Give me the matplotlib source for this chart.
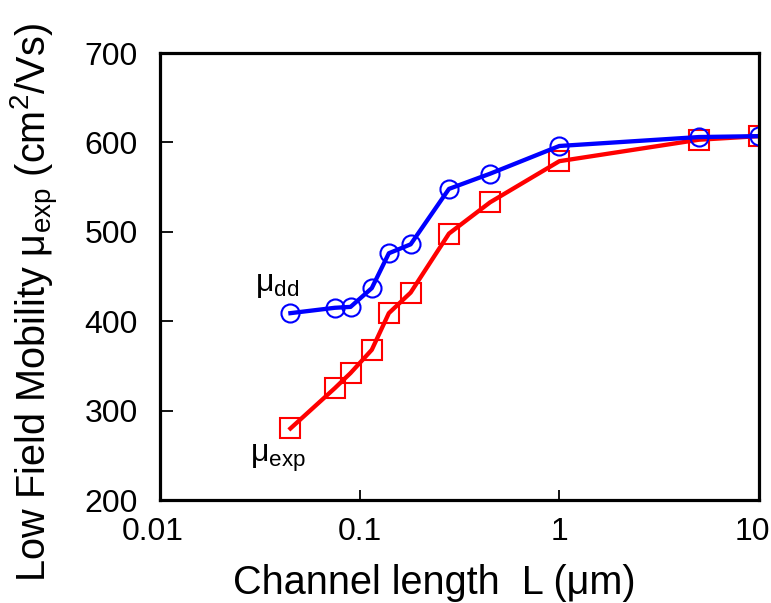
import matplotlib
matplotlib.use('Agg')
import matplotlib.pyplot as plt
import matplotlib.transforms as mtransforms

plt.rcParams['font.family'] = ['Liberation Sans', 'DejaVu Sans']
plt.rcParams['mathtext.fontset'] = 'custom'
plt.rcParams['mathtext.rm'] = 'Liberation Sans'
plt.rcParams['mathtext.it'] = 'Liberation Sans'

# channel length (um)
length = [0.045, 0.075, 0.09, 0.115, 0.14, 0.18, 0.28, 0.45, 1.0, 5.0, 10.0]
mu_dd = [409, 415, 416, 437, 476, 486, 548, 565, 596, 606, 607]
mu_exp = [280, 325, 342, 368, 409, 432, 498, 533, 579, 603, 607]

fig = plt.figure(figsize=(7.71, 6.03), dpi=100)
ax = fig.add_axes([0.2075, 0.1708, 0.777, 0.7413])

ax.plot(length, mu_exp, color='red', linewidth=3.1, marker='s', markersize=14,
        mfc='none', mec='red', mew=1.5)
ax.plot(length, mu_dd, color='blue', linewidth=3.1, marker='o', markersize=13,
        mfc='none', mec='blue', mew=1.5)

ax.set_xscale('log')
ax.set_xlim(0.01, 10)
ax.set_ylim(200, 700)
ax.set_xticks([0.01, 0.1, 1, 10])
ax.set_xticklabels(['0.01', '0.1', '1', '10'])
ax.set_yticks([200, 300, 400, 500, 600, 700])
ax.minorticks_off()

ax.tick_params(direction='in', labelsize=23, width=1.3)
ax.tick_params(axis='y', length=9, pad=16)
ax.tick_params(axis='x', length=7, pad=12)
for s in ax.spines.values():
    s.set_linewidth(2.3)

# nudge the end labels inward like the original
xlabels = ax.get_xticklabels()
xlabels[0].set_transform(xlabels[0].get_transform() +
                         mtransforms.ScaledTranslation(-7 / 100, 0, fig.dpi_scale_trans))
xlabels[-1].set_transform(xlabels[-1].get_transform() +
                          mtransforms.ScaledTranslation(-7 / 100, 0, fig.dpi_scale_trans))

ax.text(0.0299, 424, '$\\mathregular{\\mu_{dd}}$', fontsize=23, ha='left', va='bottom')
ax.text(0.0282, 229, '$\\mathregular{\\mu_{exp}}$', fontsize=23, ha='left', va='bottom')

ax.set_xlabel('Channel length  L (\u03bcm)', fontsize=28.5, va='center')
ax.xaxis.set_label_coords(0.458, -0.186)
ax.set_ylabel('Low Field Mobility $\\mathregular{\\mu_{exp}}$ (cm$\\mathregular{^2}$/Vs)',
              fontsize=28.5, va='center')
ax.yaxis.set_label_coords(-0.209, 0.442)

fig.savefig('out.png', dpi=100)
